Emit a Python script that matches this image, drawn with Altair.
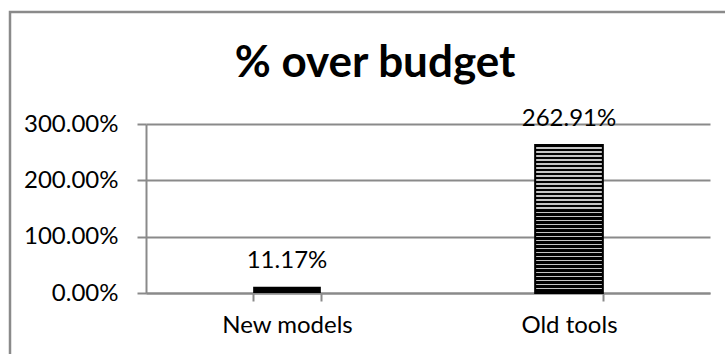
import altair as alt
import pandas as pd

# ---- data ----
categories = ["New models", "Old tools"]
values = [0.1117, 2.6291]
bar_labels = ["11.17%", "262.91%"]
y_ticks = [0, 1, 2, 3]

df = pd.DataFrame({"cat": categories, "val": values, "lab": bar_labels})

FONT = "Lato"
GRAY = "#8a8a8a"

# striped fill approximating Excel's dashed-brick pattern
stops = []
n_rows = 37
for i in range(n_rows):
    a = i / n_rows
    b = (i + 0.64) / n_rows
    c = (i + 1) / n_rows
    stops += [
        {"offset": a, "color": "#000000"},
        {"offset": b, "color": "#000000"},
        {"offset": b, "color": "#c4c4c4"},
        {"offset": c, "color": "#c4c4c4"},
    ]
pattern = {"gradient": "linear", "x1": 0, "x2": 0, "y1": 0, "y2": 1, "stops": stops}

x_enc = alt.X(
    "cat:N",
    sort=categories,
    title=None,
    scale=alt.Scale(paddingInner=0.76, paddingOuter=0.38),
    axis=alt.Axis(
        labelAngle=0,
        tickBand="extent",
        tickSize=8,
        tickColor=GRAY,
        tickWidth=2,
        domainColor=GRAY,
        domainWidth=2,
        grid=False,
        labelFont=FONT,
        labelFontSize=24,
        labelColor="#000000",
        labelPadding=12,
    ),
)
y_enc = alt.Y(
    "val:Q",
    title=None,
    scale=alt.Scale(domain=[0, 3], nice=False),
    axis=alt.Axis(
        values=y_ticks,
        format=".2%",
        tickSize=9,
        tickColor=GRAY,
        tickWidth=2,
        domainColor=GRAY,
        domainWidth=2,
        gridColor=GRAY,
        gridWidth=2,
        labelFont=FONT,
        labelFontSize=24,
        labelColor="#000000",
        labelPadding=19,
        labelAlign="right",
    ),
)

base = alt.Chart(df)

bar_solid = base.transform_filter(alt.datum.cat == "New models").mark_bar(
    color="#000000"
).encode(x=x_enc, y=y_enc)

bar_pattern = base.transform_filter(alt.datum.cat == "Old tools").mark_bar(
    fill=pattern, stroke="#000000", strokeWidth=2
).encode(x=x_enc, y=y_enc)

text = base.mark_text(
    dy=-19, baseline="alphabetic", font=FONT, fontSize=24, color="#000000"
).encode(x=x_enc, y=y_enc, text="lab:N")

frame = alt.Chart(pd.DataFrame({"a": [0]})).mark_rect(
    fillOpacity=0, stroke=GRAY, strokeWidth=2.5
).encode(
    x=alt.value(-136), x2=alt.value(700), y=alt.value(-112), y2=alt.value(300)
)

chart = alt.layer(frame, bar_solid, bar_pattern, text).properties(
    width=564,
    height=169,
    autosize=alt.AutoSizeParams(type="none"),
    padding={"left": 146, "top": 124, "right": 15, "bottom": 61},
    title=alt.TitleParams(
        "% over budget",
        font=FONT,
        fontSize=44,
        fontWeight="bold",
        color="#000000",
        anchor="middle",
        baseline="alphabetic",
        dx=-53,
        offset=-110,
    ),
).configure_view(stroke=None)

chart.save("out.html", embed_options={"renderer": "svg", "actions": False})
